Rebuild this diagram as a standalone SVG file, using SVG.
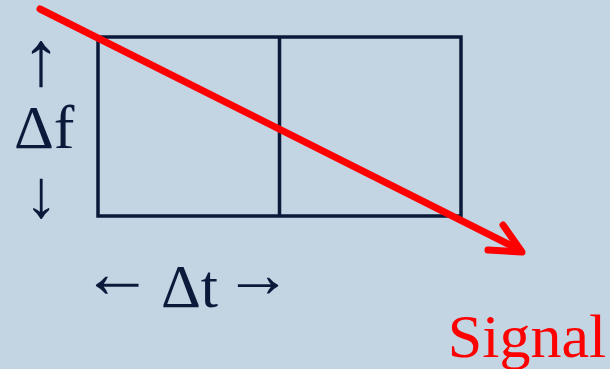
<svg xmlns="http://www.w3.org/2000/svg" width="610" height="369" viewBox="0 0 610 369">
<style>
.box{fill:none;stroke:#0B1A3A;stroke-width:3.5}
.lbl{font-family:"Liberation Serif","Times New Roman",serif;fill:#0B1A3A}
.sig{stroke:#FF0000;stroke-width:7;fill:none;stroke-linecap:round;stroke-linejoin:round}
</style>
<rect width="610" height="369" fill="#C3D4E3"/>
<g id="grid">
<rect class="box" x="98" y="37" width="363" height="179"/>
<line class="box" x1="279.5" y1="37" x2="279.5" y2="216"/>
</g>
<g id="labels">
<text class="lbl" x="41" y="85" font-size="78" text-anchor="middle">↑</text>
<text class="lbl" x="14" y="148" font-size="62">Δf</text>
<text class="lbl" x="41" y="217" font-size="68" text-anchor="middle">↓</text>
<text class="lbl" x="117" y="297" font-size="72" text-anchor="middle">←</text>
<text class="lbl" x="161" y="307" font-size="62">Δt</text>
<text class="lbl" x="258" y="297" font-size="68" text-anchor="middle">→</text>
</g>
<g id="connectors">
<line class="sig" x1="40" y1="9" x2="520" y2="250"/>
<polyline class="sig" points="488,250 522,252 503,225"/>
</g>
<g id="signal-label">
<text x="527" y="357" font-size="62" text-anchor="middle" font-family="'Liberation Serif','Times New Roman',serif" fill="#FF0000">Signal</text>
</g>
</svg>
